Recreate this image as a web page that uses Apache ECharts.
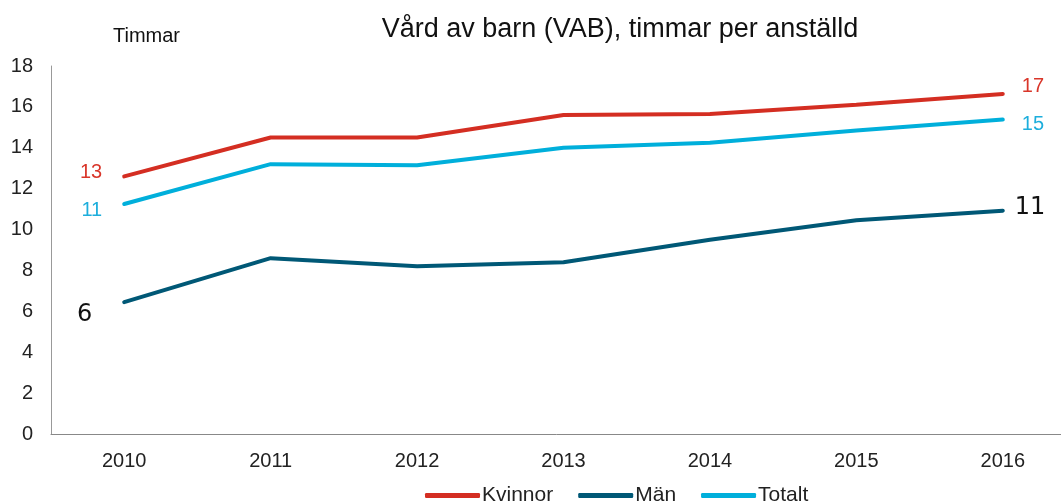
<!DOCTYPE html>
<html>
<head>
<meta charset="utf-8">
<script src="https://cdn.jsdelivr.net/npm/echarts@6/dist/echarts.min.js"></script>
<style>
  html, body { margin: 0; padding: 0; background: #fff; }
  #main { width: 1061px; height: 503px; }
</style>
</head>
<body>
<div id="main"></div>
<script>
// data
const years = ['2010', '2011', '2012', '2013', '2014', '2015', '2016']
const kvinnor = [12.6, 14.5, 14.5, 15.6, 15.65, 16.1, 16.63]
const man = [6.45, 8.6, 8.2, 8.4, 9.5, 10.45, 10.92]
const totalt = [11.25, 13.2, 13.15, 14.0, 14.25, 14.85, 15.38]

const font = 'Liberation Sans, Arial, sans-serif'

// only first and last points get a rounded value label
const withEnds = (arr, color, first, last, size, family) => arr.map((v, i) => {
  if (i !== 0 && i !== arr.length - 1) return v
  const cfg = i === 0 ? first : last
  return {
    value: v,
    label: {
      show: true,
      position: i === 0 ? 'left' : 'right',
      distance: cfg.d,
      offset: cfg.off,
      color: color,
      fontSize: size,
      fontFamily: family,
      formatter: p => Math.round(p.value)
    }
  }
})

const chart = echarts.init(document.getElementById('main'))

chart.setOption({
  animation: false,
  title: [
    {
      text: 'Vård av barn (VAB), timmar per anställd',
      left: 615, top: 11, textAlign: 'center',
      textStyle: { fontFamily: font, fontSize: 27, fontWeight: 'normal', color: '#111' }
    },
    {
      text: 'Timmar',
      left: 108, top: 21,
      textStyle: { fontFamily: font, fontSize: 20, fontWeight: 'normal', color: '#111' }
    }
  ],
  legend: {
    top: 480, left: 420,
    itemWidth: 55, itemHeight: 5, itemGap: 25,
    icon: 'roundRect',
    textStyle: { fontFamily: font, fontSize: 21, color: '#222', padding: [0, 0, 0, -3] },
    data: ['Kvinnor', 'Män', 'Totalt']
  },
  grid: { left: 51, right: -15, top: 66, bottom: 69, outerBoundsMode: 'none' },
  xAxis: {
    type: 'category',
    data: years,
    boundaryGap: true,
    axisLine: { lineStyle: { color: '#888', width: 1 } },
    axisTick: { show: false },
    axisLabel: { fontFamily: font, fontSize: 20, color: '#222', margin: 17 }
  },
  yAxis: {
    type: 'value',
    min: 0, max: 18, interval: 2,
    axisLine: { show: true, lineStyle: { color: '#999', width: 1 } },
    axisTick: { show: false },
    splitLine: { show: false },
    axisLabel: { fontFamily: font, fontSize: 20, color: '#222', margin: 18 }
  },
  series: [
    {
      name: 'Kvinnor', type: 'line', symbol: 'circle', symbolSize: 0, showSymbol: true,
      lineStyle: { width: 4, color: '#D42E22', cap: 'round' },
      itemStyle: { color: '#D42E22' },
      data: withEnds(kvinnor, '#D9362A', { d: 22, off: [0, -4] }, { d: 19, off: [0, -8] }, 20, font)
    },
    {
      name: 'Män', type: 'line', symbol: 'circle', symbolSize: 0, showSymbol: true,
      lineStyle: { width: 4, color: '#005876', cap: 'round' },
      itemStyle: { color: '#005876' },
      data: withEnds(man, '#111', { d: 32, off: [0, 13] }, { d: 12, off: [0, -3] }, 24, 'DejaVu Sans, sans-serif')
    },
    {
      name: 'Totalt', type: 'line', symbol: 'circle', symbolSize: 0, showSymbol: true,
      lineStyle: { width: 4, color: '#00AFDB', cap: 'round' },
      itemStyle: { color: '#00AFDB' },
      data: withEnds(totalt, '#1DAEDC', { d: 22, off: [0, 6] }, { d: 19, off: [0, 5] }, 20, font)
    }
  ]
})
</script>
</body>
</html>
